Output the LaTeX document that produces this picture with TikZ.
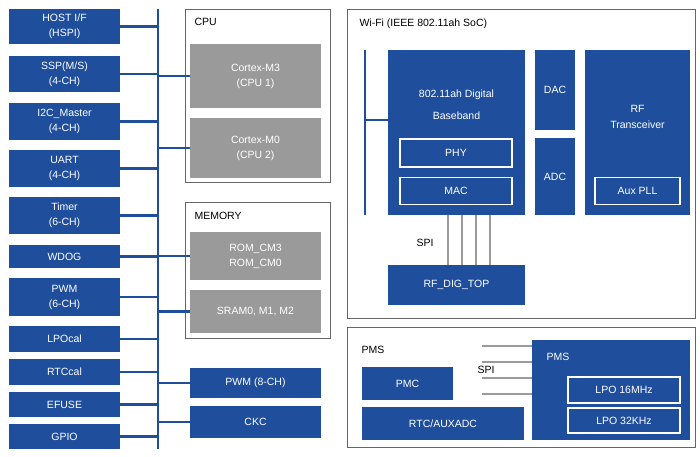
\documentclass[tikz,border=0pt]{standalone}
\usepackage{fontspec}
\setmainfont{Liberation Sans}
\definecolor{blu}{HTML}{1F4E9C}
\definecolor{gry}{HTML}{9A9A9A}
\begin{document}
\begin{tikzpicture}[x=1pt,y=-1pt,
    blk/.style={fill=blu, text=white, font=\fontsize{10.5}{15}\selectfont, align=center, inner sep=0pt},
    gblk/.style={fill=gry, text=white, font=\fontsize{10.5}{15}\selectfont, align=center, inner sep=0pt},
    sub/.style={draw=white, line width=1.2pt, text=white, font=\fontsize{10.5}{13}\selectfont, inner sep=0pt},
    frame/.style={draw=black!60, line width=0.6pt},
    bus/.style={draw=blu, line width=2.2pt},
    spi/.style={draw=gry, line width=1.5pt}]
\useasboundingbox (0,0) rectangle (700,456);
% left peripherals
\node[blk, minimum width=111, minimum height=35] (host) at (64.5,26.5) {HOST I/F\\(HSPI)};
\node[blk, minimum width=111, minimum height=36] (ssp) at (64.5,74) {SSP(M/S)\\(4-CH)};
\node[blk, minimum width=111, minimum height=37] (i2c) at (64.5,121.5) {I2C\_Master\\(4-CH)};
\node[blk, minimum width=111, minimum height=37] (uart) at (64.5,168.5) {UART\\(4-CH)};
\node[blk, minimum width=111, minimum height=37] (timer) at (64.5,215.5) {Timer\\(6-CH)};
\node[blk, minimum width=111, minimum height=23] (wdog) at (64.5,256.5) {WDOG};
\node[blk, minimum width=111, minimum height=38] (pwm) at (64.5,297) {PWM\\(6-CH)};
\node[blk, minimum width=111, minimum height=26] (lpo) at (64.5,339) {LPOcal};
\node[blk, minimum width=111, minimum height=26] (rtc) at (64.5,372) {RTCcal};
\node[blk, minimum width=111, minimum height=25] (efuse) at (64.5,404.5) {EFUSE};
\node[blk, minimum width=111, minimum height=25] (gpio) at (64.5,436.5) {GPIO};
\coordinate (bt) at (158,9);
\coordinate (bb) at (158,449);
\draw[bus] (bt) -- (bb);
\foreach \n in {host,ssp,i2c,uart,timer,wdog,pwm,lpo,rtc,efuse,gpio}
  \draw[bus] (\n.east) -- (\n.east -| bt);
% CPU
\draw[frame] (185,9) rectangle (330,182);
\node[anchor=north west, font=\fontsize{10.5}{12}\selectfont] (cpul) at (191,15) {CPU};
\node[gblk, minimum width=131, minimum height=64] (m3) at (255.5,76) {Cortex-M3\\(CPU 1)};
\node[gblk, minimum width=131, minimum height=60] (m0) at (255.5,148) {Cortex-M0\\(CPU 2)};
% MEMORY
\draw[frame] (185,202) rectangle (330,338);
\node[anchor=north west, font=\fontsize{10.5}{12}\selectfont] (meml) at (191,209) {MEMORY};
\node[gblk, minimum width=131, minimum height=48] (rom) at (255.5,256) {ROM\_CM3\\ROM\_CM0};
\node[gblk, minimum width=131, minimum height=43] (sram) at (255.5,311.5) {SRAM0, M1, M2};
\node[blk, minimum width=131, minimum height=30] (pwm8) at (255.5,383) {PWM (8-CH)};
\node[blk, minimum width=131, minimum height=32] (ckc) at (255.5,422) {CKC};
\foreach \n in {m3,m0,rom,sram,pwm8,ckc}
  \draw[bus] (\n.west -| bt) -- (\n.west);
% Wi-Fi
\draw[frame] (347,9) rectangle (695,318);
\node[anchor=north west, font=\fontsize{10.5}{12}\selectfont] (wifil) at (356,15) {Wi-Fi (IEEE 802.11ah SoC)};
\node[blk, minimum width=137, minimum height=165, anchor=north] (bb) at (456.5,50) {};
\node[text=white, font=\fontsize{10.5}{22}\selectfont, align=center] (bbl) at (456.5,105) {802.11ah Digital\\Baseband};
\node[sub, minimum width=112, minimum height=28] (phy) at (456,153) {PHY};
\node[sub, minimum width=112, minimum height=27] (mac) at (456,191) {MAC};
\node[blk, minimum width=40, minimum height=80] (dac) at (555,90) {DAC};
\node[blk, minimum width=40, minimum height=77] (adc) at (555,176.5) {ADC};
\node[blk, minimum width=105, minimum height=165] (rf) at (637.5,132.5) {};
\node[text=white, font=\fontsize{10.5}{16}\selectfont, align=center] (rfl) at (637.5,117) {RF\\Transceiver};
\node[sub, minimum width=85, minimum height=27] (pll) at (637.5,191) {Aux PLL};
\node[blk, minimum width=137, minimum height=40] (dig) at (456.5,285) {RF\_DIG\_TOP};
\coordinate (wt) at (365,50);
\coordinate (wb) at (365,215);
\draw[bus] (wt) -- (wb);
\draw[bus] (365,120) -- (bb.west |- 0,120);
\foreach \x in {448,462,476,490}
  \draw[spi] (bb.south -| \x,0) -- (dig.north -| \x,0);
\node[font=\fontsize{10.5}{12}\selectfont] (spi1) at (425,243) {SPI};
% PMS
\draw[frame] (347,327) rectangle (695,447);
\node[anchor=north west, font=\fontsize{10.5}{12}\selectfont] (pmsl) at (358,343) {PMS};
\node[blk, minimum width=91, minimum height=33] (pmc) at (407.5,383.5) {PMC};
\node[blk, minimum width=162, minimum height=33] (aux) at (443,423.5) {RTC/AUXADC};
\node[blk, minimum width=158, minimum height=100, anchor=north west] (pms) at (532,340) {};
\node[text=white, font=\fontsize{10.5}{12}\selectfont, anchor=west] (pmst) at (543,357) {PMS};
\node[sub, minimum width=112, minimum height=26] (l16) at (624,390) {LPO 16MHz};
\node[sub, minimum width=112, minimum height=25] (l32) at (624,420.5) {LPO 32KHz};
\foreach \y in {346,362,378,394}
  \draw[spi] (482,\y) -- (pms.west |- 0,\y);
\node[font=\fontsize{10.5}{12}\selectfont] (spi2) at (486,370) {SPI};
\end{tikzpicture}
\end{document}
